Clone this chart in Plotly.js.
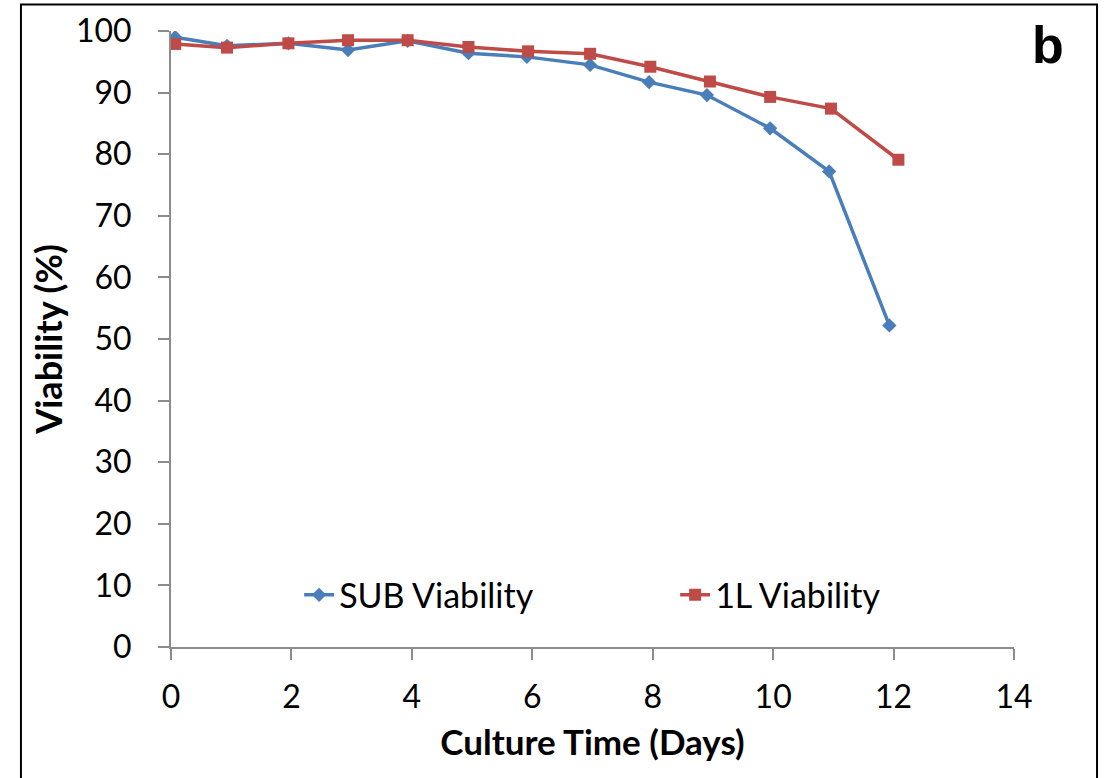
<!DOCTYPE html>
<html>
<head>
<meta charset="utf-8">
<script src="https://cdn.plot.ly/plotly-3.0.1.min.js"></script>
<style>html,body{margin:0;padding:0;background:#fff;}#chart{width:1104px;height:778px;}</style>
</head>
<body>
<div id="chart"></div>
<script>
// Culture time (days) and viability (%)
var subDays = [0.07, 0.93, 1.95, 2.94, 3.93, 4.94, 5.91, 6.96, 7.94, 8.90, 9.95, 10.93, 11.93];
var subViability = [99.0, 97.6, 98.0, 96.9, 98.4, 96.4, 95.8, 94.5, 91.7, 89.6, 84.2, 77.2, 52.2];
var oneLDays = [0.07, 0.93, 1.95, 2.94, 3.93, 4.94, 5.93, 6.96, 7.96, 8.95, 9.95, 10.96, 12.08];
var oneLViability = [97.9, 97.3, 98.0, 98.5, 98.5, 97.4, 96.7, 96.3, 94.2, 91.8, 89.3, 87.4, 79.1];
var seriesNames = ["SUB Viability", "1L Viability"];
var xTickVals = [0, 2, 4, 6, 8, 10, 12, 14];
var yTickVals = [0, 10, 20, 30, 40, 50, 60, 70, 80, 90, 100];

var FONT = "Lato, 'Open Sans', sans-serif";
var traces = [
  {x: subDays, y: subViability, name: seriesNames[0], type: 'scatter', mode: 'lines+markers',
   line: {color: '#4A7EBB', width: 3.5}, marker: {symbol: 'diamond', size: 11, color: '#4A7EBB'}},
  {x: oneLDays, y: oneLViability, name: seriesNames[1], type: 'scatter', mode: 'lines+markers',
   line: {color: '#BE4B48', width: 3.5}, marker: {symbol: 'square', size: 12, color: '#BE4B48'}}
];

var layout = {
  width: 1104, height: 778,
  margin: {l: 171, r: 90, t: 31, b: 131},
  paper_bgcolor: '#fff', plot_bgcolor: '#fff',
  font: {family: FONT, size: 31, color: '#000'},
  showlegend: true,
  legend: {orientation: 'h', x: 0.152, xanchor: 'left', y: 0.084, yanchor: 'middle',
    bgcolor: 'rgba(0,0,0,0)', font: {family: FONT, size: 34, color: '#000'},
    entrywidth: 331, entrywidthmode: 'pixels', itemwidth: 30},
  xaxis: {range: [0, 14], tickvals: xTickVals, ticktext: xTickVals.map(String),
    showgrid: false, zeroline: false, showline: true, linecolor: '#8C8C8C', linewidth: 2,
    ticks: 'outside', ticklen: 11, tickwidth: 2, tickcolor: '#8C8C8C',
    ticklabelstandoff: 10,
    tickfont: {family: FONT, size: 32, color: '#000'},
    title: {text: '<b>Culture Time (Days)</b>', font: {family: FONT, size: 35, color: '#000'}, standoff: 16},
    automargin: false},
  yaxis: {range: [0, 100], tickvals: yTickVals, ticktext: yTickVals.map(String),
    showgrid: false, zeroline: false, showline: true, linecolor: '#8C8C8C', linewidth: 2,
    ticks: 'outside', ticklen: 11, tickwidth: 2, tickcolor: '#8C8C8C',
    ticklabelstandoff: 20,
    tickfont: {family: FONT, size: 32, color: '#000'},
    title: {text: '<b>Viability (%)</b>', font: {family: FONT, size: 36, color: '#000'}, standoff: 2},
    automargin: false},
  annotations: [
    {text: '<b>b</b>', xref: 'paper', yref: 'paper', x: 1.04, y: 0.978, xanchor: 'center', yanchor: 'middle',
     showarrow: false, font: {family: "'Liberation Sans', Arial, sans-serif", size: 52, color: '#000'}}
  ],
  shapes: [
    {type: 'rect', xref: 'paper', yref: 'paper', x0: -0.178, x1: 1.0985, y0: -0.3, y1: 1.043,
     line: {color: '#000', width: 2}, fillcolor: 'rgba(0,0,0,0)', layer: 'below'}
  ]
};

Plotly.newPlot('chart', traces, layout, {displayModeBar: false, staticPlot: true});
</script>
</body>
</html>
